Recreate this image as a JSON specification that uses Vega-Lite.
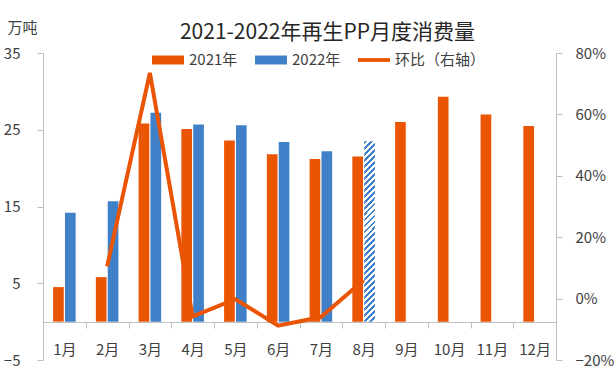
{
  "$schema": "https://vega.github.io/schema/vega-lite/v6.json",
  "width": 513,
  "height": 307,
  "autosize": "none",
  "padding": {"left": 43, "top": 53, "right": 60, "bottom": 19},
  "background": "white",
  "title": {
    "text": "2021-2022年再生PP月度消费量",
    "fontSize": 21,
    "fontWeight": "normal",
    "font": "Noto Sans CJK SC",
    "color": "#262626",
    "anchor": "middle",
    "dx": 28,
    "dy": 39,
    "offset": 16
  },
  "datasets": {
    "bars": [
      {"month": "1月", "year": "2021年", "value": 4.5},
      {"month": "2月", "year": "2021年", "value": 5.8},
      {"month": "3月", "year": "2021年", "value": 25.8},
      {"month": "4月", "year": "2021年", "value": 25.1},
      {"month": "5月", "year": "2021年", "value": 23.6},
      {"month": "6月", "year": "2021年", "value": 21.8},
      {"month": "7月", "year": "2021年", "value": 21.2},
      {"month": "8月", "year": "2021年", "value": 21.5},
      {"month": "9月", "year": "2021年", "value": 26.0},
      {"month": "10月", "year": "2021年", "value": 29.3},
      {"month": "11月", "year": "2021年", "value": 27.0},
      {"month": "12月", "year": "2021年", "value": 25.5},
      {"month": "1月", "year": "2022年", "value": 14.2},
      {"month": "2月", "year": "2022年", "value": 15.7},
      {"month": "3月", "year": "2022年", "value": 27.2},
      {"month": "4月", "year": "2022年", "value": 25.7},
      {"month": "5月", "year": "2022年", "value": 25.6},
      {"month": "6月", "year": "2022年", "value": 23.4},
      {"month": "7月", "year": "2022年", "value": 22.2},
      {"month": "8月", "year": "2022年", "value": 23.5}
    ],
    "mom": [
      {"month": "2月", "series": "环比（右轴）", "ratio": 0.105},
      {"month": "3月", "series": "环比（右轴）", "ratio": 0.735},
      {"month": "4月", "series": "环比（右轴）", "ratio": -0.058},
      {"month": "5月", "series": "环比（右轴）", "ratio": -0.002},
      {"month": "6月", "series": "环比（右轴）", "ratio": -0.088},
      {"month": "7月", "series": "环比（右轴）", "ratio": -0.06},
      {"month": "8月", "series": "环比（右轴）", "ratio": 0.06}
    ]
  },
  "layer": [
    {
      "data": {"name": "bars"},
      "encoding": {
        "x": {
          "field": "month",
          "type": "ordinal",
          "sort": ["1月","2月","3月","4月","5月","6月","7月","8月","9月","10月","11月","12月"],
          "scale": {"domain": ["1月","2月","3月","4月","5月","6月","7月","8月","9月","10月","11月","12月"], "paddingInner": 0, "paddingOuter": 0},
          "axis": {
            "title": null,
            "offset": -38,
            "tickBand": "extent",
            "tickSize": 6,
            "labelPadding": 14,
            "labelAngle": 0,
            "labelFontSize": 15,
            "labelColor": "#404040",
            "domainColor": "#BFBFBF",
            "tickColor": "#BFBFBF",
            "grid": false
          }
        },
        "xOffset": {
          "field": "year",
          "type": "nominal",
          "scale": {"domain": ["2021年","2022年"], "paddingInner": 0.1, "paddingOuter": 0.85}
        },
        "y": {
          "field": "value",
          "type": "quantitative",
          "scale": {"domain": [-5, 35], "nice": false, "zero": false},
          "axis": {
            "title": "万吨",
            "titleAngle": 0,
            "titleX": -36,
            "titleY": -26,
            "titleAlign": "left",
            "titleBaseline": "middle",
            "titleFontSize": 15,
            "titleFontWeight": "normal",
            "titleColor": "#404040",
            "values": [-5, 5, 15, 25, 35],
            "grid": false,
            "tickSize": 6,
            "labelPadding": 17,
            "labelFontSize": 15,
            "labelColor": "#404040",
            "domainColor": "#BFBFBF",
            "tickColor": "#BFBFBF"
          }
        }
      },
      "layer": [
        {
          "transform": [{"filter": "!(datum.year === '2022年' && datum.month === '8月')"}],
          "mark": {"type": "bar"},
          "encoding": {
            "color": {
              "field": "year",
              "type": "nominal",
              "scale": {"domain": ["2021年","2022年","环比（右轴）"], "range": ["#EA5504","#4080C8","#EA5504"]},
              "legend": {
                "title": null,
                "orient": "none",
                "legendX": 109,
                "legendY": -9,
                "direction": "horizontal",
                "padding": 0,
                "columnPadding": 17,
                "labelOffset": 5,
                "labelFontSize": 15,
                "labelColor": "#404040",
                "symbolSize": 1024,
                "symbolStrokeWidth": 0,
                "symbolOpacity": 1,
                "encode": {
                  "symbols": {
                    "update": {
                      "shape": {"signal": "datum.value === '环比（右轴）' ? 'M-1,-0.12H1V0.12H-1Z' : 'M-1,-0.28H1V0.28H-1Z'"},
                      "fill": {"signal": "datum.value === '2022年' ? '#4080C8' : '#EA5504'"},
                      "fillOpacity": {"value": 1},
                      "strokeWidth": {"value": 0}
                    }
                  }
                }
              }
            }
          }
        },
        {
          "transform": [{"filter": "datum.year === '2022年' && datum.month === '8月'"}],
          "mark": {
            "type": "bar",
            "color": {
              "gradient": "linear",
              "x1": 0, "y1": 0, "x2": 0.0628, "y2": 1.0558,
              "stops": [
                {"offset": 0, "color": "#4080C8"}, {"offset": 0.015, "color": "#4080C8"}, {"offset": 0.015, "color": "#FFFFFF"}, {"offset": 0.03125, "color": "#FFFFFF"},
                {"offset": 0.03125, "color": "#4080C8"}, {"offset": 0.04625, "color": "#4080C8"}, {"offset": 0.04625, "color": "#FFFFFF"}, {"offset": 0.0625, "color": "#FFFFFF"},
                {"offset": 0.0625, "color": "#4080C8"}, {"offset": 0.0775, "color": "#4080C8"}, {"offset": 0.0775, "color": "#FFFFFF"}, {"offset": 0.09375, "color": "#FFFFFF"},
                {"offset": 0.09375, "color": "#4080C8"}, {"offset": 0.10875, "color": "#4080C8"}, {"offset": 0.10875, "color": "#FFFFFF"}, {"offset": 0.125, "color": "#FFFFFF"},
                {"offset": 0.125, "color": "#4080C8"}, {"offset": 0.14, "color": "#4080C8"}, {"offset": 0.14, "color": "#FFFFFF"}, {"offset": 0.15625, "color": "#FFFFFF"},
                {"offset": 0.15625, "color": "#4080C8"}, {"offset": 0.17125, "color": "#4080C8"}, {"offset": 0.17125, "color": "#FFFFFF"}, {"offset": 0.1875, "color": "#FFFFFF"},
                {"offset": 0.1875, "color": "#4080C8"}, {"offset": 0.2025, "color": "#4080C8"}, {"offset": 0.2025, "color": "#FFFFFF"}, {"offset": 0.21875, "color": "#FFFFFF"},
                {"offset": 0.21875, "color": "#4080C8"}, {"offset": 0.23375, "color": "#4080C8"}, {"offset": 0.23375, "color": "#FFFFFF"}, {"offset": 0.25, "color": "#FFFFFF"},
                {"offset": 0.25, "color": "#4080C8"}, {"offset": 0.265, "color": "#4080C8"}, {"offset": 0.265, "color": "#FFFFFF"}, {"offset": 0.28125, "color": "#FFFFFF"},
                {"offset": 0.28125, "color": "#4080C8"}, {"offset": 0.29625, "color": "#4080C8"}, {"offset": 0.29625, "color": "#FFFFFF"}, {"offset": 0.3125, "color": "#FFFFFF"},
                {"offset": 0.3125, "color": "#4080C8"}, {"offset": 0.3275, "color": "#4080C8"}, {"offset": 0.3275, "color": "#FFFFFF"}, {"offset": 0.34375, "color": "#FFFFFF"},
                {"offset": 0.34375, "color": "#4080C8"}, {"offset": 0.35875, "color": "#4080C8"}, {"offset": 0.35875, "color": "#FFFFFF"}, {"offset": 0.375, "color": "#FFFFFF"},
                {"offset": 0.375, "color": "#4080C8"}, {"offset": 0.39, "color": "#4080C8"}, {"offset": 0.39, "color": "#FFFFFF"}, {"offset": 0.40625, "color": "#FFFFFF"},
                {"offset": 0.40625, "color": "#4080C8"}, {"offset": 0.42125, "color": "#4080C8"}, {"offset": 0.42125, "color": "#FFFFFF"}, {"offset": 0.4375, "color": "#FFFFFF"},
                {"offset": 0.4375, "color": "#4080C8"}, {"offset": 0.4525, "color": "#4080C8"}, {"offset": 0.4525, "color": "#FFFFFF"}, {"offset": 0.46875, "color": "#FFFFFF"},
                {"offset": 0.46875, "color": "#4080C8"}, {"offset": 0.48375, "color": "#4080C8"}, {"offset": 0.48375, "color": "#FFFFFF"}, {"offset": 0.5, "color": "#FFFFFF"},
                {"offset": 0.5, "color": "#4080C8"}, {"offset": 0.515, "color": "#4080C8"}, {"offset": 0.515, "color": "#FFFFFF"}, {"offset": 0.53125, "color": "#FFFFFF"},
                {"offset": 0.53125, "color": "#4080C8"}, {"offset": 0.54625, "color": "#4080C8"}, {"offset": 0.54625, "color": "#FFFFFF"}, {"offset": 0.5625, "color": "#FFFFFF"},
                {"offset": 0.5625, "color": "#4080C8"}, {"offset": 0.5775, "color": "#4080C8"}, {"offset": 0.5775, "color": "#FFFFFF"}, {"offset": 0.59375, "color": "#FFFFFF"},
                {"offset": 0.59375, "color": "#4080C8"}, {"offset": 0.60875, "color": "#4080C8"}, {"offset": 0.60875, "color": "#FFFFFF"}, {"offset": 0.625, "color": "#FFFFFF"},
                {"offset": 0.625, "color": "#4080C8"}, {"offset": 0.64, "color": "#4080C8"}, {"offset": 0.64, "color": "#FFFFFF"}, {"offset": 0.65625, "color": "#FFFFFF"},
                {"offset": 0.65625, "color": "#4080C8"}, {"offset": 0.67125, "color": "#4080C8"}, {"offset": 0.67125, "color": "#FFFFFF"}, {"offset": 0.6875, "color": "#FFFFFF"},
                {"offset": 0.6875, "color": "#4080C8"}, {"offset": 0.7025, "color": "#4080C8"}, {"offset": 0.7025, "color": "#FFFFFF"}, {"offset": 0.71875, "color": "#FFFFFF"},
                {"offset": 0.71875, "color": "#4080C8"}, {"offset": 0.73375, "color": "#4080C8"}, {"offset": 0.73375, "color": "#FFFFFF"}, {"offset": 0.75, "color": "#FFFFFF"},
                {"offset": 0.75, "color": "#4080C8"}, {"offset": 0.765, "color": "#4080C8"}, {"offset": 0.765, "color": "#FFFFFF"}, {"offset": 0.78125, "color": "#FFFFFF"},
                {"offset": 0.78125, "color": "#4080C8"}, {"offset": 0.79625, "color": "#4080C8"}, {"offset": 0.79625, "color": "#FFFFFF"}, {"offset": 0.8125, "color": "#FFFFFF"},
                {"offset": 0.8125, "color": "#4080C8"}, {"offset": 0.8275, "color": "#4080C8"}, {"offset": 0.8275, "color": "#FFFFFF"}, {"offset": 0.84375, "color": "#FFFFFF"},
                {"offset": 0.84375, "color": "#4080C8"}, {"offset": 0.85875, "color": "#4080C8"}, {"offset": 0.85875, "color": "#FFFFFF"}, {"offset": 0.875, "color": "#FFFFFF"},
                {"offset": 0.875, "color": "#4080C8"}, {"offset": 0.89, "color": "#4080C8"}, {"offset": 0.89, "color": "#FFFFFF"}, {"offset": 0.90625, "color": "#FFFFFF"},
                {"offset": 0.90625, "color": "#4080C8"}, {"offset": 0.92125, "color": "#4080C8"}, {"offset": 0.92125, "color": "#FFFFFF"}, {"offset": 0.9375, "color": "#FFFFFF"},
                {"offset": 0.9375, "color": "#4080C8"}, {"offset": 0.9525, "color": "#4080C8"}, {"offset": 0.9525, "color": "#FFFFFF"}, {"offset": 0.96875, "color": "#FFFFFF"},
                {"offset": 0.96875, "color": "#4080C8"}, {"offset": 0.98375, "color": "#4080C8"}, {"offset": 0.98375, "color": "#FFFFFF"}, {"offset": 1, "color": "#FFFFFF"}
              ]
            }
          }
        }
      ]
    },
    {
      "data": {"name": "mom"},
      "mark": {"type": "line", "strokeWidth": 4, "strokeJoin": "miter"},
      "encoding": {
        "x": {
          "field": "month",
          "type": "ordinal",
          "sort": ["1月","2月","3月","4月","5月","6月","7月","8月","9月","10月","11月","12月"]
        },
        "y": {
          "field": "ratio",
          "type": "quantitative",
          "scale": {"domain": [-0.2, 0.8], "nice": false, "zero": false},
          "axis": {
            "title": null,
            "orient": "right",
            "format": ".0%",
            "values": [-0.2, 0, 0.2, 0.4, 0.6, 0.8],
            "grid": false,
            "tickSize": 6,
            "labelPadding": 13,
            "labelFontSize": 15,
            "labelColor": "#404040",
            "domainColor": "#BFBFBF",
            "tickColor": "#BFBFBF"
          }
        },
        "color": {"field": "series", "type": "nominal"}
      }
    }
  ],
  "resolve": {"scale": {"y": "independent"}},
  "config": {
    "font": "Noto Sans CJK SC",
    "view": {"stroke": null},
    "axis": {"labelFont": "Noto Sans CJK SC", "titleFont": "Noto Sans CJK SC"},
    "legend": {"labelFont": "Noto Sans CJK SC"}
  }
}
